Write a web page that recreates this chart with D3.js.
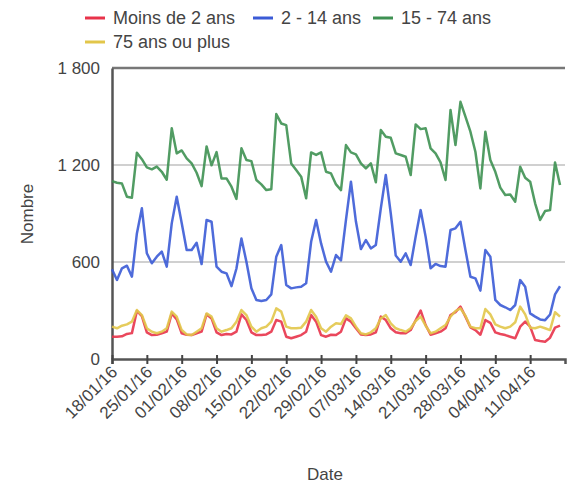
<!DOCTYPE html>
<html><head><meta charset="utf-8">
<script src="https://cdnjs.cloudflare.com/ajax/libs/d3/7.8.5/d3.min.js"></script>
<style>
html,body{margin:0;padding:0;background:#fff;}
text{font-family:"Liberation Sans",Arial,sans-serif;fill:#444;}
</style></head><body>
<svg id="c" width="570" height="486"></svg>
<script>
const startDate = "2016-01-18";
const endDate = "2016-04-18";
const tickLabels = ["18/01/16","25/01/16","01/02/16","08/02/16","15/02/16","22/02/16","29/02/16","07/03/16","14/03/16","21/03/16","28/03/16","04/04/16","11/04/16"];
const yTicks = [0, 600, 1200, 1800];
const seriesNames = ["Moins de 2 ans","2 - 14 ans","15 - 74 ans","75 ans ou plus"];
const seriesColors = ["#e8334a","#3b5bd6","#3e9152","#e2c64a"];

const moins2 = [138,138,140,155,160,297,265,165,148,150,159,169,282,245,159,150,148,159,169,276,251,165,148,155,152,169,276,241,165,148,148,152,169,241,231,138,128,138,148,169,272,231,148,138,150,148,169,251,231,190,152,148,152,165,262,241,190,165,159,159,179,240,300,210,150,159,169,190,272,290,324,262,196,179,150,241,224,165,155,148,138,128,200,231,200,117,111,107,132,194,206];
const ans2_14 = [555,489,561,577,509,777,932,654,592,633,664,571,839,1004,841,674,674,719,587,860,849,571,540,530,451,560,746,602,437,365,359,365,400,633,705,458,437,443,447,468,725,860,715,602,540,643,610,860,1097,850,680,736,684,705,932,1138,900,640,602,653,581,757,921,757,561,588,575,571,798,808,849,674,509,499,423,674,633,365,334,320,303,334,488,447,282,262,245,240,275,400,450];
const ans15_74 = [1100,1090,1085,1004,998,1276,1236,1185,1173,1190,1158,1109,1427,1272,1290,1241,1210,1152,1069,1315,1198,1280,1116,1117,1066,990,1303,1231,1224,1107,1080,1045,1050,1515,1457,1447,1210,1169,1128,994,1278,1262,1278,1158,1148,1080,1045,1323,1278,1266,1210,1179,1210,1093,1416,1375,1368,1272,1262,1251,1138,1451,1422,1427,1303,1272,1216,1107,1540,1323,1591,1499,1406,1282,1055,1406,1231,1158,1060,1014,1017,973,1189,1121,1097,963,860,915,921,1216,1076];
const ans75plus = [200,190,206,214,231,303,272,190,169,159,169,190,293,262,179,152,148,169,190,282,262,190,169,179,190,231,303,272,200,169,190,200,231,313,293,200,190,190,194,231,303,262,190,169,200,221,216,270,251,200,159,152,165,190,251,272,220,190,179,169,190,235,262,206,159,169,190,210,262,297,313,268,200,190,190,309,276,214,200,190,200,227,324,276,194,190,200,190,179,289,262];

const series = [moins2, ans2_14, ans15_74, ans75plus];
const t0 = new Date(startDate + "T00:00:00Z");
const dates = moins2.map((_, i) => d3.utcDay.offset(t0, i));
const tickDates = tickLabels.map((_, i) => d3.utcDay.offset(t0, i * 7));

const svg = d3.select("#c");
const L = 112, R = 565, T = 68, B = 359;
const x = d3.scaleUtc().domain([t0, new Date(endDate + "T00:00:00Z")]).range([L, R]);
const y = d3.scaleLinear().domain([0, 1800]).range([B, T]);

// gridlines
svg.append("g").selectAll("line").data(yTicks.filter(v => v > 0 && v < 1800)).join("line")
  .attr("x1", L).attr("x2", R).attr("y1", d => y(d)).attr("y2", d => y(d))
  .attr("stroke", "#d0d0d0").attr("stroke-width", 2);
// top frame line
svg.append("line").attr("x1", L).attr("x2", R).attr("y1", y(1800)).attr("y2", y(1800))
  .attr("stroke", "#777").attr("stroke-width", 2.5);

// y axis
const yAxis = d3.axisLeft(y).tickValues(yTicks).tickSize(0).tickPadding(12)
  .tickFormat(d => d3.format(",")(d).replace(",", " "));
const gy = svg.append("g").attr("transform", `translate(${L},0)`).call(yAxis);
gy.select(".domain").attr("stroke", "#555").attr("stroke-width", 2.5);
gy.selectAll("text").attr("font-size", 17).attr("fill", "#333").attr("dy", "0.35em")
  .style("font-family", '"Liberation Sans",Arial,sans-serif');

// x axis
const xAxis = d3.axisBottom(x).tickValues(tickDates).tickSize(5).tickFormat((d, i) => tickLabels[i]);
const gx = svg.append("g").attr("transform", `translate(0,${B})`).call(xAxis);
gx.select(".domain").attr("stroke", "#555").attr("stroke-width", 2.5);
gx.selectAll(".tick line").attr("stroke", "#444").attr("stroke-width", 2).attr("y1", -4).attr("y2", 5);
gx.selectAll(".tick text").attr("font-size", 17).attr("fill", "#333")
  .attr("text-anchor", "end").attr("y", 0).attr("dy", 0)
  .attr("transform", "translate(6,14) rotate(-45)")
  .style("font-family", '"Liberation Sans",Arial,sans-serif');

// lines
const line = d3.line().x((d, i) => x(dates[i])).y(d => y(d));
series.forEach((s, k) => {
  svg.append("path").datum(s).attr("d", line).attr("fill", "none")
    .attr("stroke", seriesColors[k]).attr("stroke-width", 2.5)
    .attr("stroke-linejoin", "round").attr("stroke-opacity", 0.9);
});

// axis titles
svg.append("text").attr("x", 325).attr("y", 480).attr("text-anchor", "middle")
  .attr("font-size", 17).text("Date");
svg.append("text").attr("transform", "translate(33,214) rotate(-90)").attr("text-anchor", "middle")
  .attr("font-size", 17).text("Nombre");

// legend
const legendPos = [[85, 18], [253, 18], [373, 18], [85, 42]];
const lg = svg.append("g");
seriesNames.forEach((n, k) => {
  const [lx, ly] = legendPos[k];
  lg.append("line").attr("x1", lx).attr("x2", lx + 20).attr("y1", ly).attr("y2", ly)
    .attr("stroke", seriesColors[k]).attr("stroke-width", 3);
  lg.append("text").attr("x", lx + 28).attr("y", ly).attr("dy", "0.35em")
    .attr("font-size", 18).attr("fill", "#444").text(n);
});
</script>
</body></html>
